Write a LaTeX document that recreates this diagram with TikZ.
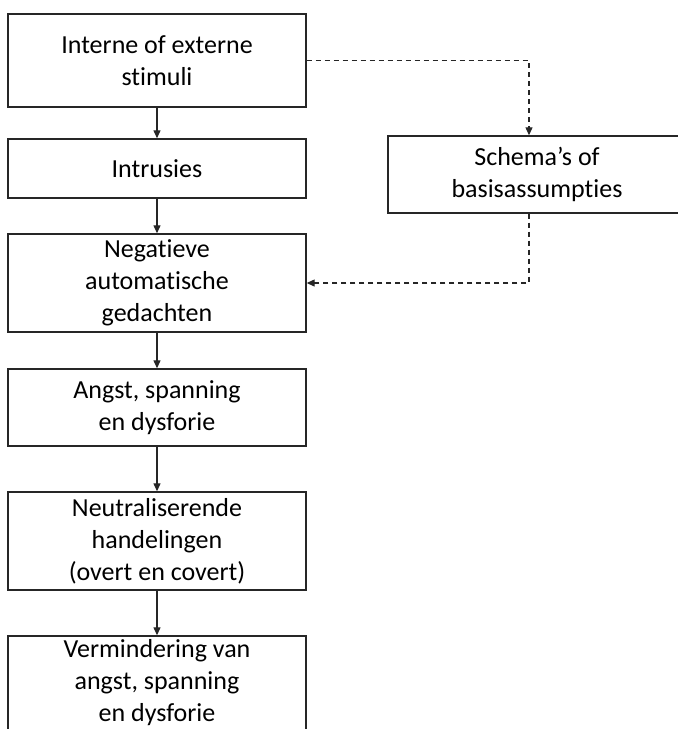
\documentclass[tikz,border=0pt]{standalone}
\usepackage{fontspec}
\setmainfont{Carlito}[Ligatures={NoCommon}]
\usepackage{xcolor}
\definecolor{lijn}{HTML}{262626}
\usetikzlibrary{arrows.meta, positioning}

\begin{document}
\begin{tikzpicture}[
        x=1pt, y=-1pt,
        box/.style={draw=lijn, line width=1.4pt, minimum width=298pt, align=center,
            inner sep=0pt, font=\fontsize{26}{32}\selectfont, text=black},
        pijl/.style={draw=lijn, line width=1.2pt, -{Triangle[length=8pt,width=7pt]}},
        stippel/.style={pijl, dash pattern=on 5pt off 4pt}
    ]
    \useasboundingbox (0,0) rectangle (678,729);
    \node[box, minimum height=93pt] (stim) at (157,60.5) {Interne of externe\\stimuli};
    \node[box, minimum height=59pt] (intr) at (157,168.5) {Intrusies};
    \node[box, minimum height=98pt] (neg) at (157,283) {Negatieve\\automatische\\gedachten};
    \node[box, minimum height=77pt] (angst) at (157,407.5) {Angst, spanning\\en dysforie};
    \node[box, minimum height=98pt] (neut) at (157,541) {Neutraliserende\\handelingen\\(overt en covert)};
    \node[box, minimum height=94pt] (verm) at (157,683) {Vermindering van\\angst, spanning\\en dysforie};
    \node[box, minimum height=77pt] (schema) at (537,174.5) {Schema’s of\\basisassumpties};
    % hoofdlijn
    \draw[pijl] (stim) -- (intr);
    \draw[pijl] (intr) -- (neg);
    \draw[pijl] (neg) -- (angst);
    \draw[pijl] (angst) -- (neut);
    \draw[pijl] (neut) -- (verm);
    % via schema's
    \draw[stippel] (stim.east) -| ([xshift=-8pt]schema.north);
    \draw[stippel] ([xshift=-8pt]schema.south) |- (neg.east);
\end{tikzpicture}
\end{document}
